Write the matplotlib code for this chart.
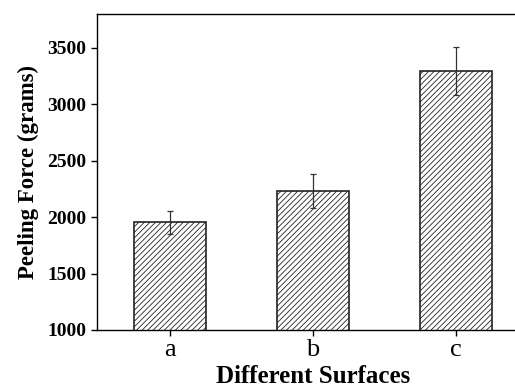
import matplotlib
matplotlib.use('Agg')
import matplotlib.pyplot as plt

# data
surfaces = ['a', 'b', 'c']
peel_force = [1955, 2230, 3295]
peel_err = [103, 152, 215]

plt.rcParams['font.family'] = ['Liberation Serif', 'DejaVu Serif']
plt.rcParams['hatch.color'] = '#666666'
plt.rcParams['hatch.linewidth'] = 0.6

fig = plt.figure(figsize=(5.15, 3.92), dpi=100)
ax = fig.add_axes([0.1883, 0.1582, 0.839, 0.806])

x = range(len(surfaces))
ax.bar(x, peel_force, 0.5, color='white', edgecolor='#222222', linewidth=1.2, hatch='//////', zorder=2)
ax.errorbar(x, peel_force, yerr=peel_err, fmt='none', ecolor='#333333', elinewidth=0.9, capsize=2.5, capthick=0.9, zorder=3)

ax.set_xlim(-0.51, 2.51)
ax.set_ylim(1000, 3800)
ax.set_yticks([1000, 1500, 2000, 2500, 3000, 3500])
ax.set_xticks(list(x))
ax.set_xticklabels(surfaces, fontsize=19)
for lab in ax.get_yticklabels():
    lab.set_fontweight('bold')
    lab.set_fontsize(14)

ax.tick_params(axis='y', direction='out', length=4.5, width=1, pad=3)
ax.tick_params(axis='x', direction='out', length=4.5, width=1, pad=2)
for sp in ax.spines.values():
    sp.set_linewidth(1.0)

ax.set_ylabel('Peeling Force (grams)', fontsize=16.5, fontweight='bold', labelpad=6)
ax.set_xlabel('Different Surfaces', fontsize=18, fontweight='bold', labelpad=3)

fig.savefig('out.png', dpi=100)
